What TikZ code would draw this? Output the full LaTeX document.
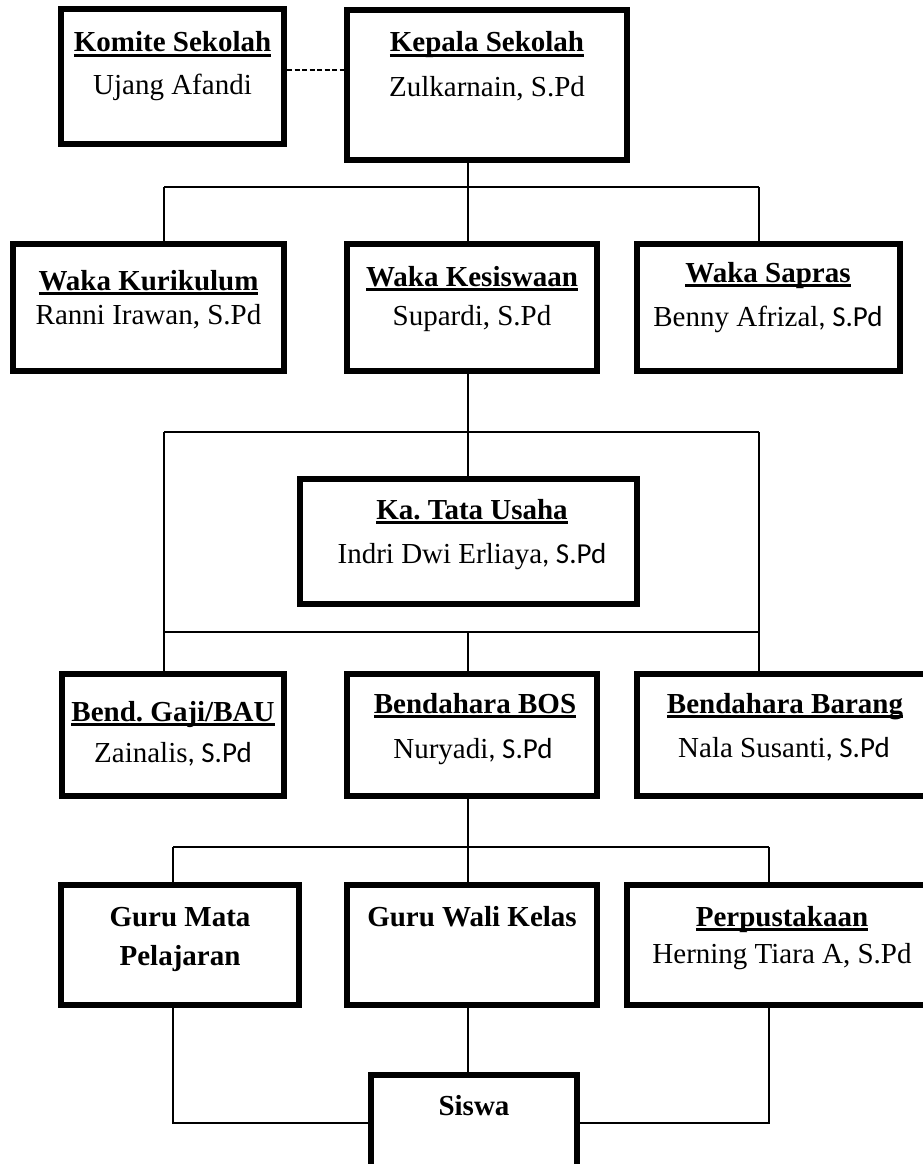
\documentclass[tikz,border=0pt]{standalone}
\usepackage{fontspec}
\setmainfont{Liberation Serif}
\newfontfamily\carl{Carlito}
\frenchspacing
\newcommand\myul[1]{\setbox0\hbox{#1}\rlap{\rule[-5pt]{\wd0}{2.6pt}}\box0}
\newcommand\mkbox[5]{\node[orgbox,minimum width={(#4-#2-6)*1pt},minimum height={(#5-#3-6)*1pt}] (#1) at ({(#2+#4)/2},{(#3+#5)/2}) {};}
\tikzset{
  orgbox/.style={draw, rectangle, line width=6pt, inner sep=0pt},
  lbl/.style={anchor=base, inner sep=0pt, font=\fontsize{29}{34}\selectfont\frenchspacing},
  conn/.style={line width=1.3pt},
  dsh/.style={line width=1.5pt, dash pattern=on 5pt off 2.5pt}
}
\begin{document}
\begin{tikzpicture}[x=1pt,y=-1pt]
\useasboundingbox (0,0) rectangle (923,1164);
\fill[white] (0,0) rectangle (923,1164);
\clip (0,0) rectangle (923,1164);
% boxes
\mkbox{kom}{58}{6}{287}{147}
\mkbox{kep}{344}{7}{630}{163}
\mkbox{wk}{10}{241}{287}{374}
\mkbox{kes}{344}{241}{600}{374}
\mkbox{ws}{634}{241}{903}{374}
\mkbox{tu}{297}{476}{640}{607}
\mkbox{bg}{59}{671}{287}{799}
\mkbox{bos}{344}{671}{600}{799}
\mkbox{bb}{634}{671}{940}{799}
\mkbox{gm}{58}{882}{302}{1008}
\mkbox{gw}{344}{882}{600}{1008}
\mkbox{pp}{624}{882}{940}{1008}
\mkbox{sis}{368}{1072}{580}{1220}
% texts
\node[lbl] (komT) at (172.5,52) {\bfseries\myul{Komite Sekolah}};
\node[lbl] (komN) at (172.5,94) {Ujang Afandi};
\node[lbl] (kepT) at (487,52) {\bfseries\myul{Kepala Sekolah}};
\node[lbl] (kepN) at (487,96) {Zulkarnain, S.Pd};
\node[lbl] (wkT) at (148.5,290) {\bfseries\myul{Waka Kurikulum}};
\node[lbl] (wkN) at (148.5,324) {Ranni Irawan, S.Pd};
\node[lbl] (kesT) at (472,286) {\bfseries\myul{Waka Kesiswaan}};
\node[lbl] (kesN) at (472,325) {Supardi, S.Pd};
\node[lbl] (wsT) at (768,282) {\bfseries\myul{Waka Sapras}};
\node[lbl] (wsN) at (768,326) {Benny Afrizal{\carl, S.Pd}};
\node[lbl] (tuT) at (472,519) {\bfseries\myul{Ka. Tata Usaha}};
\node[lbl] (tuN) at (472,563) {Indri Dwi Erliaya{\carl, S.Pd}};
\node[lbl] (bgT) at (173,721) {\bfseries\myul{Bend. Gaji/BAU}};
\node[lbl] (bgN) at (173,762) {Zainalis{\carl, S.Pd}};
\node[lbl] (bosT) at (475,713) {\bfseries\myul{Bendahara BOS}};
\node[lbl] (bosN) at (473,758) {Nuryadi{\carl, S.Pd}};
\node[lbl] (bbT) at (785,713) {\bfseries\myul{Bendahara Barang}};
\node[lbl] (bbN) at (784,757) {Nala Susanti{\carl, S.Pd}};
\node[lbl] (gmT) at (180,926) {\bfseries Guru Mata};
\node[lbl] (gmT2) at (180,965) {\bfseries Pelajaran};
\node[lbl] (gwT) at (472,926) {\bfseries Guru Wali Kelas};
\node[lbl] (ppT) at (782,926) {\bfseries\myul{Perpustakaan}};
\node[lbl] (ppN) at (782,963) {Herning Tiara A, S.Pd};
\node[lbl] (sisT) at (474,1115) {\bfseries Siswa};
% junction coordinates
\coordinate (dl) at (300,70);
\coordinate (b1l) at (164,187); \coordinate (b1m) at (468,187); \coordinate (b1r) at (759,187);
\coordinate (b2l) at (164,432); \coordinate (b2m) at (468,432); \coordinate (b2r) at (759,432);
\coordinate (b3l) at (164,632); \coordinate (b3m) at (468,632); \coordinate (b3r) at (759,632);
\coordinate (b4l) at (173,847); \coordinate (b4m) at (468,847); \coordinate (b4r) at (769,847);
\coordinate (c1) at (173,1123); \coordinate (c2) at (769,1123);
% connectors
\draw[dsh] (kom.east |- dl) -- (kep.west |- dl);
\draw[conn] (kep.south -| b1m) -- (b1m);
\draw[conn] (b1l) -- (b1r);
\draw[conn] (b1l) -- (wk.north -| b1l);
\draw[conn] (b1m) -- (kes.north -| b1m);
\draw[conn] (b1r) -- (ws.north -| b1r);
\draw[conn] (kes.south -| b2m) -- (b2m) -- (tu.north -| b2m);
\draw[conn] (b2l) -- (b2r);
\draw[conn] (b2l) -- (b3l);
\draw[conn] (b2r) -- (b3r);
\draw[conn, line width=1.8pt] (b3l) -- (b3r);
\draw[conn] (b3l) -- (bg.north -| b3l);
\draw[conn] (b3m) -- (bos.north -| b3m);
\draw[conn] (b3r) -- (bb.north -| b3r);
\draw[conn] (bos.south -| b4m) -- (b4m);
\draw[conn] (b4l) -- (b4r);
\draw[conn] (b4l) -- (gm.north -| b4l);
\draw[conn] (b4m) -- (gw.north -| b4m);
\draw[conn] (b4r) -- (pp.north -| b4r);
\draw[conn] (gm.south -| c1) -- (c1) -- (sis.west |- c1);
\draw[conn] (gw.south -| b4m) -- (sis.north -| b4m);
\draw[conn] (pp.south -| c2) -- (c2) -- (sis.east |- c2);
\end{tikzpicture}
\end{document}
